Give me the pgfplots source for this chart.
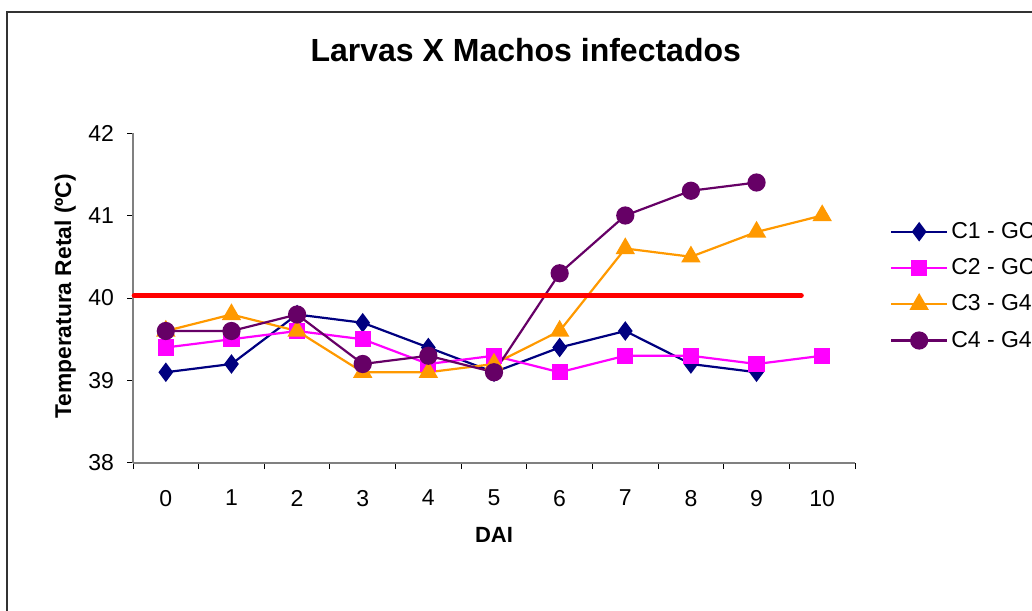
\documentclass[border=0pt]{standalone}
\usepackage{fontspec}
\setmainfont{Liberation Sans}
\usepackage{pgfplots}
\pgfplotsset{compat=1.18}

\definecolor{cone}{HTML}{000080}
\definecolor{ctwo}{HTML}{FF00FF}
\definecolor{cthree}{HTML}{FF9900}
\definecolor{cfour}{HTML}{660066}
\definecolor{axgray}{HTML}{808080}

\begin{document}
\begin{tikzpicture}
  % 1 px of the reference = 0.5pt
  \path[use as bounding box] (0,0) rectangle (516pt,305pt);
  \clip (0,0) rectangle (516pt,305pt);
  \draw[black!80, line width=0.6pt] (3.5pt,-20pt) -- (3.5pt,299pt) -- (540pt,299pt);

  \begin{axis}[
    at={(66.5pt,73.5pt)}, anchor=south west,
    scale only axis, width=361pt, height=165pt,
    xmin=-0.5, xmax=10.5, ymin=38, ymax=42,
    axis x line*=bottom, axis y line*=left,
    axis line style={axgray, line width=0.9pt},
    clip=false,
    xtick={0,...,10},
    minor xtick={-0.5,0.5,...,10.5},
    ytick={38,39,40,41,42},
    tick align=outside,
    major x tick style={draw=none},
    minor tick length=3pt, major tick length=3pt,
    every tick/.style={black, line width=0.5pt},
    x tick label style={yshift=-7pt},
    y tick label style={xshift=-3pt},
    tick label style={font=\fontsize{11.5}{13}\selectfont},
    /pgf/number format/assume math mode=true,
    xlabel={\textbf{DAI}},
    xlabel style={at={(axis description cs:0.5,-0.218)}, anchor=center, font=\fontsize{11}{13}\selectfont},
    ylabel={\textbf{Temperatura Retal (ºC)}},
    ylabel style={at={(axis description cs:-0.094,0.505)}, anchor=center, rotate=0, font=\fontsize{11.4}{13}\selectfont},
    title={\textbf{Larvas X Machos infectados}},
    title style={at={(axis description cs:0.544,1.216)}, anchor=center, font=\fontsize{16}{19}\selectfont},
    legend style={at={(axis description cs:1.048,0.74)}, anchor=north west, draw=none, fill=none,
      inner sep=0pt, row sep=5.6pt, font=\fontsize{11.5}{13}\selectfont,
      nodes={inner sep=1.5pt}},
    legend cell align=left,
    legend image code/.code={
      \draw[mark repeat=2, mark phase=2, #1] plot coordinates {(0pt,0pt) (14pt,0pt) (28pt,0pt)};
    },
    every axis plot/.append style={line width=1.1pt},
  ]
    \addplot[cone, mark=diamond*, mark size=4pt, mark options={solid, fill=cone}]
      coordinates {(0,39.1) (1,39.2) (2,39.8) (3,39.7) (4,39.4) (5,39.1) (6,39.4) (7,39.6) (8,39.2) (9,39.1)};
    \addlegendentry{C1 - GC}
    \addplot[ctwo, mark=square*, mark size=3.5pt, mark options={solid, fill=ctwo}]
      coordinates {(0,39.4) (1,39.5) (2,39.6) (3,39.5) (4,39.2) (5,39.3) (6,39.1) (7,39.3) (8,39.3) (9,39.2) (10,39.3)};
    \addlegendentry{C2 - GC}
    \addplot[cthree, mark=triangle*, mark size=4.5pt, mark options={solid, fill=cthree}]
      coordinates {(0,39.6) (1,39.8) (2,39.6) (3,39.1) (4,39.1) (5,39.2) (6,39.6) (7,40.6) (8,40.5) (9,40.8) (10,41.0)};
    \addlegendentry{C3 - G4}
    \addplot[cfour, mark=*, mark size=4pt, mark options={solid, fill=cfour}]
      coordinates {(0,39.6) (1,39.6) (2,39.8) (3,39.2) (4,39.3) (5,39.1) (6,40.3) (7,41.0) (8,41.3) (9,41.4)};
    \addlegendentry{C4 - G4}
    \addplot[red, line width=2.6pt, line cap=round, forget plot]
      coordinates {(-0.48,40.03) (9.68,40.03)};
  \end{axis}
\end{tikzpicture}
\end{document}
